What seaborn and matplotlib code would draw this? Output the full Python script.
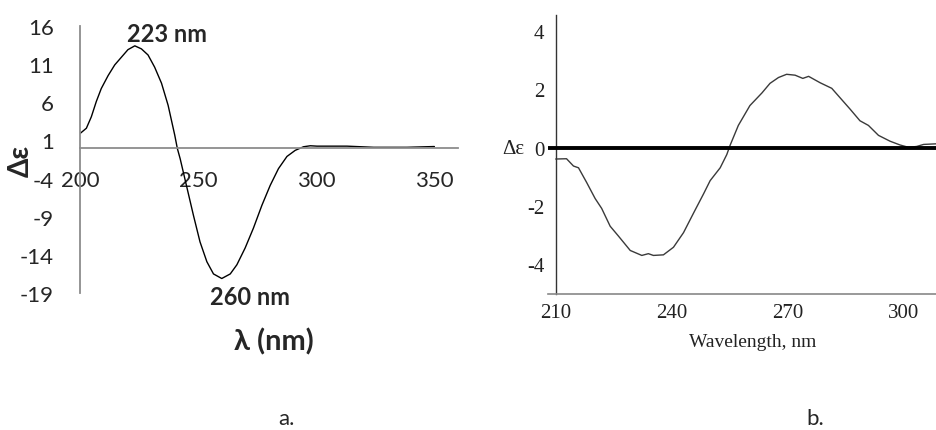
import numpy as np
import pandas as pd
from matplotlib import pyplot as plt
import seaborn as sns

# panel a: CD spectrum
wl_a = [200, 202.7, 204.8, 206.9, 209, 211.9, 214.7, 217.5, 220.3, 223.2, 226, 228.8,
        231.6, 234.5, 237.3, 240.1, 241.2, 242.4, 245.2, 248, 250.8, 253.7, 256.5, 260,
        263.6, 266.4, 269.9, 273.4, 277, 280.5, 284, 287.6, 291.1, 294.6, 297.5, 300.3,
        313, 324.3, 338.4, 350]
de_a = [1.9, 2.6, 4.1, 6.1, 7.8, 9.5, 10.9, 11.9, 12.9, 13.4, 13.0, 12.2,
        10.6, 8.5, 5.6, 1.7, -0.05, -1.4, -5.1, -8.8, -12.3, -14.9, -16.5, -17.1,
        -16.5, -15.3, -13.1, -10.5, -7.5, -4.9, -2.7, -1.1, -0.3, 0.17, 0.3, 0.25,
        0.25, 0.1, 0.1, 0.2]
yticks_a = [16, 11, 6, 1, -4, -9, -14, -19]
xticks_a = [200, 250, 300, 350]

# panel b
wl_b = [210, 212.8, 214.6, 215.9, 218, 220.2, 221.9, 224.1, 226.2, 229.3, 232.3, 234, 235.3,
        237.9, 240.5, 243.1, 245.7, 248.3, 250, 252.6, 254.3, 255.2, 257.3, 260.3, 263.4,
        265.5, 267.7, 269.8, 272, 274, 275.5, 278.5, 281.5, 283.7, 286.3, 288.8, 291, 293.6,
        296.6, 299.2, 301.4, 303.5, 305.3, 308.5]
de_b = [-0.39, -0.38, -0.63, -0.69, -1.19, -1.74, -2.08, -2.69, -3.02, -3.52, -3.69, -3.63, -3.69,
        -3.67, -3.41, -2.91, -2.24, -1.58, -1.13, -0.69, -0.24, 0.09, 0.76, 1.44, 1.87,
        2.2, 2.4, 2.51, 2.48, 2.37, 2.44, 2.22, 2.03, 1.7, 1.31, 0.92, 0.76, 0.42,
        0.22, 0.09, 0.01, 0.04, 0.11, 0.13]
yticks_b = [4, 2, 0, -2, -4]
xticks_b = [210, 240, 270, 300]

sns.set_style("white")
plt.rcParams['font.family'] = ['Lato', 'DejaVu Sans']
plt.rcParams['axes.unicode_minus'] = False

W, H = 936, 431
fig = plt.figure(figsize=(W / 100, H / 100), dpi=100)

def px_axes(x0, y0, x1, y1):
    return fig.add_axes([x0 / W, 1 - y1 / H, (x1 - x0) / W, (y1 - y0) / H])

# ---- panel a ----
grey = "#8c8c8c"
ax = px_axes(80, 27, 458, 294)
sns.lineplot(data=pd.DataFrame({"wl": wl_a, "de": de_a}), x="wl", y="de", ax=ax,
             color="black", lw=1.0)
ax.set_xlim(200, 360)
ax.set_ylim(-19, 16)
ax.set_xticks(xticks_a)
ax.set_yticks(yticks_a)
ax.spines[["top", "right"]].set_visible(False)
ax.spines["bottom"].set_position(("data", 0))
for s in ("left", "bottom"):
    ax.spines[s].set_color(grey)
    ax.spines[s].set_linewidth(1.3)
ax.tick_params(axis="y", direction="out", length=6, width=1.3, color=grey, pad=13, labelsize=16)
ax.tick_params(axis="x", direction="out", length=6, width=1.3, color=grey, pad=10, labelsize=16)
ax.set_xlabel("")
ax.set_ylabel("")
ax.text(237, 15, "223 nm", fontsize=17, fontweight="bold", ha="center", va="center", clip_on=False)
ax.text(272, -19.4, "260 nm", fontsize=17, fontweight="bold", ha="center", va="center", clip_on=False)
fig.text(273.5 / W, 1 - 342 / H, "λ (nm)", fontsize=21, fontweight="bold", ha="center", va="center")
fig.text(21 / W, 1 - 161 / H, "Δε", fontsize=20, fontweight="bold", rotation=90, ha="center", va="center")
fig.text(286 / W, 1 - 419 / H, "a.", fontsize=16, ha="center", va="center")

# ---- panel b ----
serif = ["Liberation Serif", "DejaVu Serif"]
bx = px_axes(548, 16, 936, 294.7)
sns.lineplot(data=pd.DataFrame({"wl": wl_b, "de": de_b}), x="wl", y="de", ax=bx,
             color="#3a3a3a", lw=1.0)
bx.axhline(0, color="black", lw=2.8, zorder=3)
bx.set_xlim(208, 308.5)
bx.set_ylim(-5, 4.54)
bx.set_xticks(xticks_b)
bx.set_yticks(yticks_b)
bx.spines[["top", "right"]].set_visible(False)
bx.spines["left"].set_position(("data", 210))
bx.spines["left"].set_color("#333333")
bx.spines["bottom"].set_color("#888888")
bx.spines["left"].set_linewidth(1.0)
bx.spines["bottom"].set_linewidth(1.2)
bx.tick_params(axis="y", direction="out", length=5, width=1, color="#333333", pad=3, labelsize=15)
bx.tick_params(axis="x", direction="out", length=5, width=1, color="#888888", pad=2, labelsize=15)
for lab in bx.get_xticklabels() + bx.get_yticklabels():
    lab.set_family(serif)
    lab.set_color("#222222")
bx.set_xlabel("")
bx.set_ylabel("")
fig.text(753 / W, 1 - 343 / H, "Wavelength, nm", fontsize=14, family=serif, color="#222222",
         ha="center", va="center")
fig.text(513 / W, 1 - 149 / H, "Δε", fontsize=15, family=serif, color="#222222",
         ha="center", va="center")
fig.text(815 / W, 1 - 419 / H, "b.", fontsize=16, ha="center", va="center")

fig.savefig("out.png", dpi=100)
